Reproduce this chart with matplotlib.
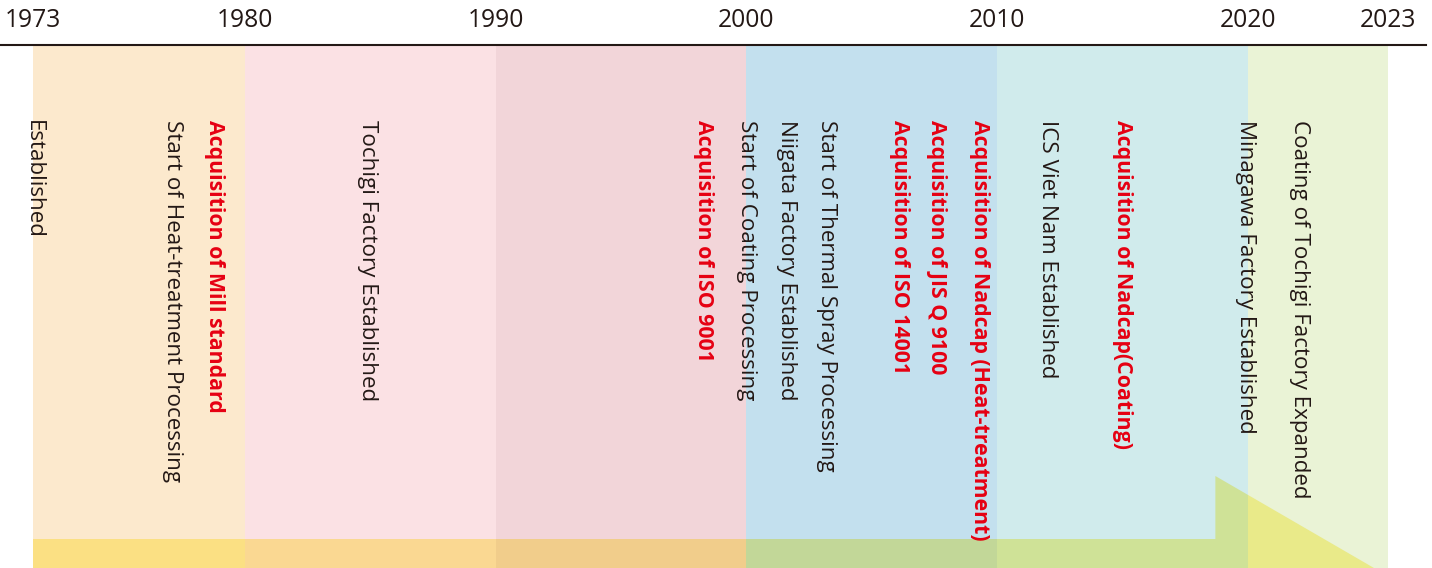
import numpy as np
import matplotlib
matplotlib.use("Agg")
import matplotlib.pyplot as plt
from matplotlib.patches import Rectangle, Polygon
from matplotlib.lines import Line2D

# ---------------- data ----------------
tick_years = [1973, 1980, 1990, 2000, 2010, 2020, 2023]
tick_labels = ["1973", "1980", "1990", "2000", "2010", "2020", "2023"]

band_starts = [1973, 1980, 1990, 2000, 2010, 2020]
band_ends = [1980, 1990, 2000, 2010, 2020, 2023]
band_colors = ["#FCE9CD", "#FBE1E4", "#F2D5D9", "#C3E0EE", "#D0EBEC", "#EAF3D6"]

event_x = [1973.0, 1977.6, 1979.0, 1984.9, 1998.3, 2000.0, 2001.6, 2003.2,
           2006.1, 2007.6, 2009.3, 2012.0, 2015.0, 2019.9, 2021.1]
event_text = [
    "Established",
    "Start of Heat-treatment Processing",
    "Acquisition of Mill standard",
    "Tochigi Factory Established",
    "Acquisition of ISO 9001",
    "Start of Coating Processing",
    "Niigata Factory Established",
    "Start of Thermal Spray Processing",
    "Acquisition of ISO 14001",
    "Acquisition of JIS Q 9100",
    "Acquisition of Nadcap (Heat-treatment)",
    "ICS Viet Nam Established",
    "Acquisition of Nadcap(Coating)",
    "Minagawa Factory Established",
    "Coating of Tochigi Factory Expanded",
]
event_is_cert = [False, False, True, False, True, False, False, False,
                 True, True, True, False, True, False, False]

# ---------------- style / layout ----------------
W, H = 1432, 568
SEG_PX = [0, 212, 463, 713, 964, 1215, 1355]   # piecewise (non-linear) timeline layout
DARK = "#231815"
RED = "#E60012"
ARROW_RGB = np.array([0.996, 0.961, 0.639])   # multiplied onto the bands
FONT = ["Open Sans", "DejaVu Sans"]

fig = plt.figure(figsize=(W / 100, H / 100), dpi=100)
ax = fig.add_axes([33 / W, 0, 1355 / W, 522 / H])


def fwd(x):
    return np.interp(x, tick_years, SEG_PX)


def inv(p):
    return np.interp(p, SEG_PX, tick_years)


ax.set_xscale("function", functions=(fwd, inv))
ax.set_xlim(tick_years[0], tick_years[-1])
ax.set_ylim(568, 46)
ax.set_axis_off()

# bands
band_patches = []
for s, e, c in zip(band_starts, band_ends, band_colors):
    r = Rectangle((s, 46), e - s, 568 - 46, facecolor=c, edgecolor="none", zorder=1)
    ax.add_patch(r)
    band_patches.append(r)

# arrow (multiply-blended onto each band)
shaft_end = 2018.7
tip = 2022.7
arrow_pts = [(1973, 539), (shaft_end, 539), (shaft_end, 476), (tip, 568), (1973, 568)]
for r, c in zip(band_patches, band_colors):
    base = np.array(matplotlib.colors.to_rgb(c))
    col = base * ARROW_RGB
    p = Polygon(arrow_pts, closed=True, facecolor=col, edgecolor="none", zorder=2)
    ax.add_patch(p)
    p.set_clip_path(r)

# events
for x, t, cert in zip(event_x, event_text, event_is_cert):
    ax.text(x, 120, t, rotation=-90, ha="center", va="top",
            fontsize=15.3 if cert else 16.1, family=FONT,
            color=RED if cert else DARK,
            fontweight="bold" if cert else "normal",
            zorder=5, clip_on=False)

# tick labels
for x, lab in zip(tick_years, tick_labels):
    ax.text(x, 27, lab, ha="center", va="baseline", fontsize=17.7,
            family=FONT, color=DARK, clip_on=False)

# top axis line
fig.add_artist(Line2D([0, 1426 / W], [1 - 45 / H, 1 - 45 / H],
                      color=DARK, linewidth=1.5, transform=fig.transFigure))

fig.savefig("out.png", dpi=100)
